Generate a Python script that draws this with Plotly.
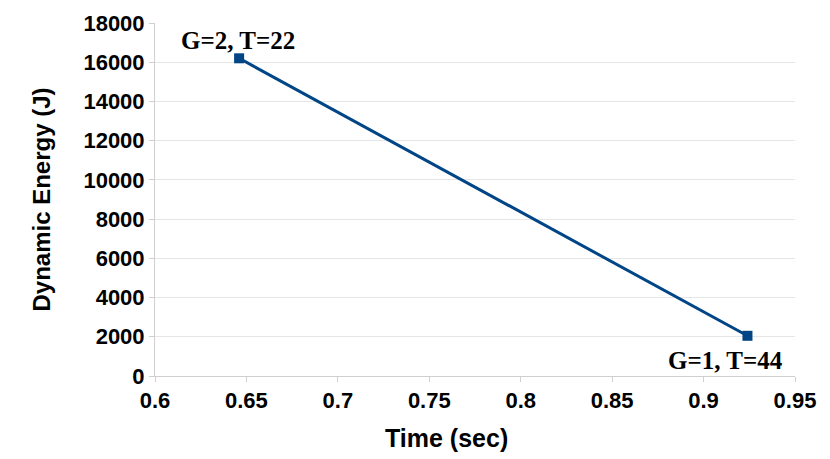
import plotly.graph_objects as go

time_sec = [0.646, 0.924]
energy_j = [16200, 2050]
labels = ["G=2, T=22", "G=1, T=44"]
x_ticks = [0.6, 0.65, 0.7, 0.75, 0.8, 0.85, 0.9, 0.95]
x_tick_text = ["0.6", "0.65", "0.7", "0.75", "0.8", "0.85", "0.9", "0.95"]
y_ticks = [0, 2000, 4000, 6000, 8000, 10000, 12000, 14000, 16000, 18000]

fig = go.Figure()
fig.add_trace(go.Scatter(
    x=time_sec, y=energy_j, mode="lines+markers",
    line=dict(color="#004586", width=3),
    marker=dict(symbol="square", size=10, color="#004586"),
    showlegend=False,
))

fig.add_annotation(x=time_sec[0], y=energy_j[0], text="<b>" + labels[0] + "</b>", showarrow=False,
                   xanchor="center", yanchor="middle", xshift=-1, yshift=18,
                   font=dict(family="Liberation Serif", size=25, color="black"))
fig.add_annotation(x=time_sec[1], y=energy_j[1], text="<b>" + labels[1] + "</b>", showarrow=False,
                   xanchor="center", yanchor="middle", xshift=-22, yshift=-25,
                   font=dict(family="Liberation Serif", size=25, color="black"))
# x-axis title (offset left of plot centre, as in the reference)
fig.add_annotation(xref="paper", yref="paper", x=0.455, y=0, yshift=-62,
                   text="<b>Time (sec)</b>", showarrow=False,
                   xanchor="center", yanchor="middle",
                   font=dict(family="Liberation Sans", size=25, color="black"))

fig.update_layout(
    width=822, height=451,
    margin=dict(l=147, r=35, t=15, b=83),
    plot_bgcolor="white", paper_bgcolor="white",
    font=dict(family="Liberation Sans", size=19, color="black"),
)
fig.update_xaxes(
    range=[0.6, 0.95], tickvals=x_ticks, ticktext=["<b>" + t + "</b>" for t in x_tick_text],
    showgrid=False, automargin=False,
    showline=True, linecolor="#d0d0d0", linewidth=1,
    ticks="outside", ticklen=5, tickcolor="#d0d0d0",
    tickfont=dict(family="Liberation Sans", size=22, color="black"),
    zeroline=False,
)
fig.update_yaxes(
    range=[0, 18000], tickvals=y_ticks, ticktext=["<b>" + str(v) + "</b>" for v in y_ticks],
    showgrid=True, gridcolor="#e6e6e6", automargin=False,
    showline=True, linecolor="#d0d0d0", linewidth=1,
    ticks="outside", ticklen=5, tickcolor="#d0d0d0",
    tickfont=dict(family="Liberation Sans", size=22, color="black"),
    title=dict(text="<b>Dynamic Energy (J)</b>", font=dict(family="Liberation Sans", size=24), standoff=26),
    zeroline=False,
)
fig.write_html("out.html")
